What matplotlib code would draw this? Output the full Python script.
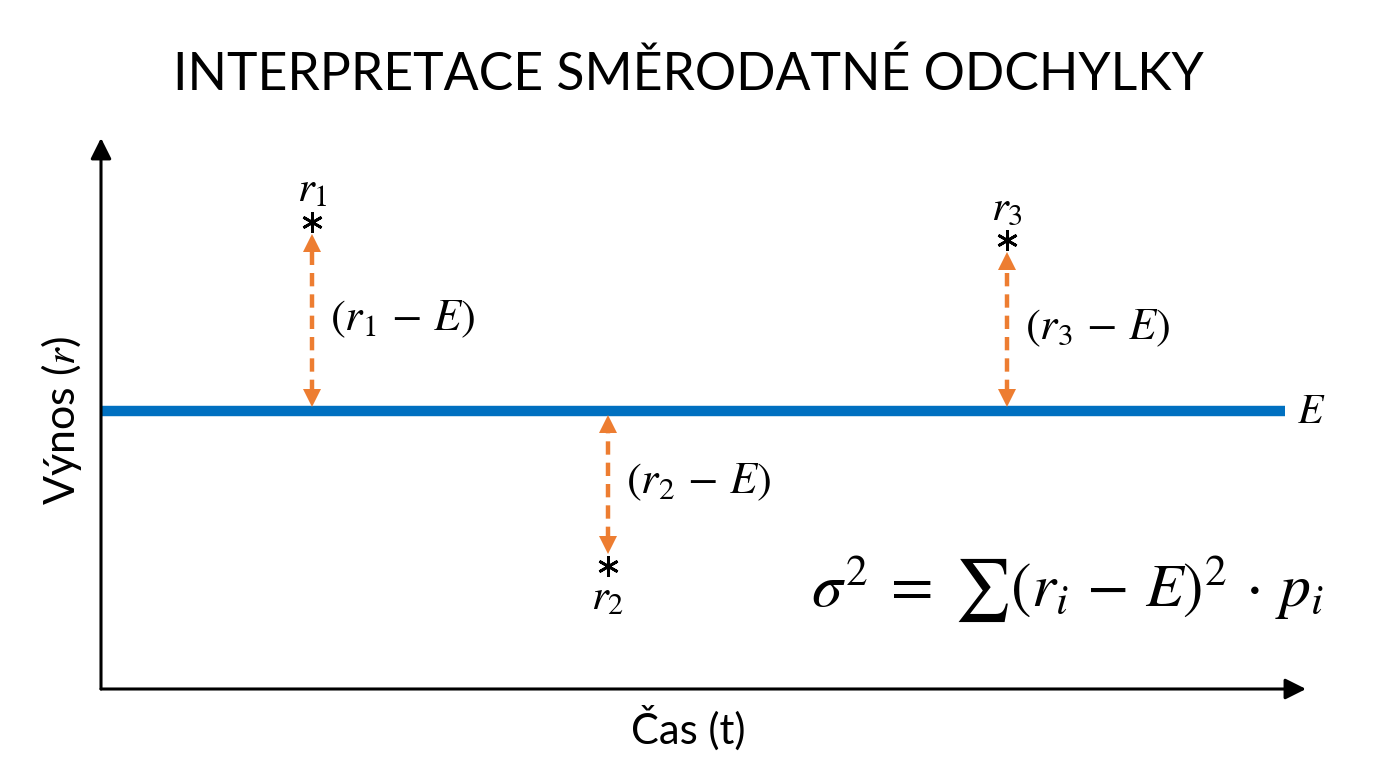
import matplotlib
matplotlib.use("Agg")
import matplotlib.pyplot as plt

# ---- data ----
title = "INTERPRETACE SMĚRODATNÉ ODCHYLKY"
x_label = "Čas (t)"
y_label = "Výnos ($r$)"
E_value = 2.78
E_end = 11.84
times = [2.11, 5.07, 9.06]
returns = [4.67, 1.23, 4.49]
point_labels = ["$r_1$", "$r_2$", "$r_3$"]
diff_labels = [r"$(r_1\,-\,E)$", r"$(r_2\,-\,E)$", r"$(r_3\,-\,E)$"]
formula = r"$\sigma^2\;=\;\sum(r_i\,-\,E)^2\,\cdot\,p_i$"

plt.rcParams["mathtext.fontset"] = "stix"
plt.rcParams["font.family"] = ["Lato", "DejaVu Sans"]

W, H = 1376, 768
fig = plt.figure(figsize=(W / 100, H / 100), dpi=100)
fig.patch.set_facecolor("white")
ax = fig.add_axes([101 / W, (H - 689) / H, 1199 / W, 551 / H])
ax.set_xlim(0, 11.99)
ax.set_ylim(0, 5.51)
for s in ax.spines.values():
    s.set_visible(False)
ax.set_xticks([])
ax.set_yticks([])
ax.patch.set_alpha(0)

# axes arrows
arrow_kw = dict(arrowstyle="-|>,head_length=0.9,head_width=0.45", color="black",
                lw=2.2, mutation_scale=14, shrinkA=0, shrinkB=0)
ax.annotate("", xy=(0, 1.0), xytext=(0, 0), xycoords="axes fraction",
            arrowprops=arrow_kw, annotation_clip=False)
ax.annotate("", xy=(1.005, 0), xytext=(0, 0), xycoords="axes fraction",
            arrowprops=arrow_kw, annotation_clip=False)

# expected value line
ax.hlines(E_value, 0, E_end, color="#0070C0", lw=7.5, zorder=2)
ax.text(E_end + 0.12, E_value, "$E$", fontsize=30, ha="left", va="center")

orange = "#ED7D31"
line_half = 0.05
gap = 0.13
head = 0.16
for t, r, pl, dl in zip(times, returns, point_labels, diff_labels):
    ax.plot([t], [r], marker=(6, 2, 0), ms=15, mew=2.0, color="black", zorder=4)
    up = r > E_value
    if up:
        y0 = E_value + line_half
        y1 = r - gap
        ax.text(t, r + 0.13, pl, fontsize=31, ha="center", va="bottom")
    else:
        y0 = E_value - line_half
        y1 = r + gap
        ax.text(t, r - 0.13, pl, fontsize=31, ha="center", va="top")
    lo, hi = min(y0, y1), max(y0, y1)
    ax.plot([t, t], [lo + head * 0.8, hi - head * 0.8], color=orange, lw=3.2,
            ls=(0, (3, 1.8)), zorder=3)
    ax.plot([t], [hi - head / 2], marker="^", ms=12.5, color=orange, mew=0, zorder=3)
    ax.plot([t], [lo + head / 2], marker="v", ms=12.5, color=orange, mew=0, zorder=3)
    ax.text(t + 0.18, (y0 + y1) / 2 + (0.01 if up else 0.02), dl, fontsize=32,
            ha="left", va="center")

ax.text(7.1, 1.0, formula, fontsize=44.5, ha="left", va="center")

fig.text(688 / W, 1 - 75 / H, title, fontsize=37.3, ha="center", va="center")
fig.text(688 / W, 1 - 728 / H, x_label, fontsize=30, ha="center", va="center")
fig.text(62 / W, 1 - 420 / H, y_label, fontsize=31, ha="center", va="center",
         rotation=90)

fig.savefig("out.png", dpi=100, facecolor="white")
